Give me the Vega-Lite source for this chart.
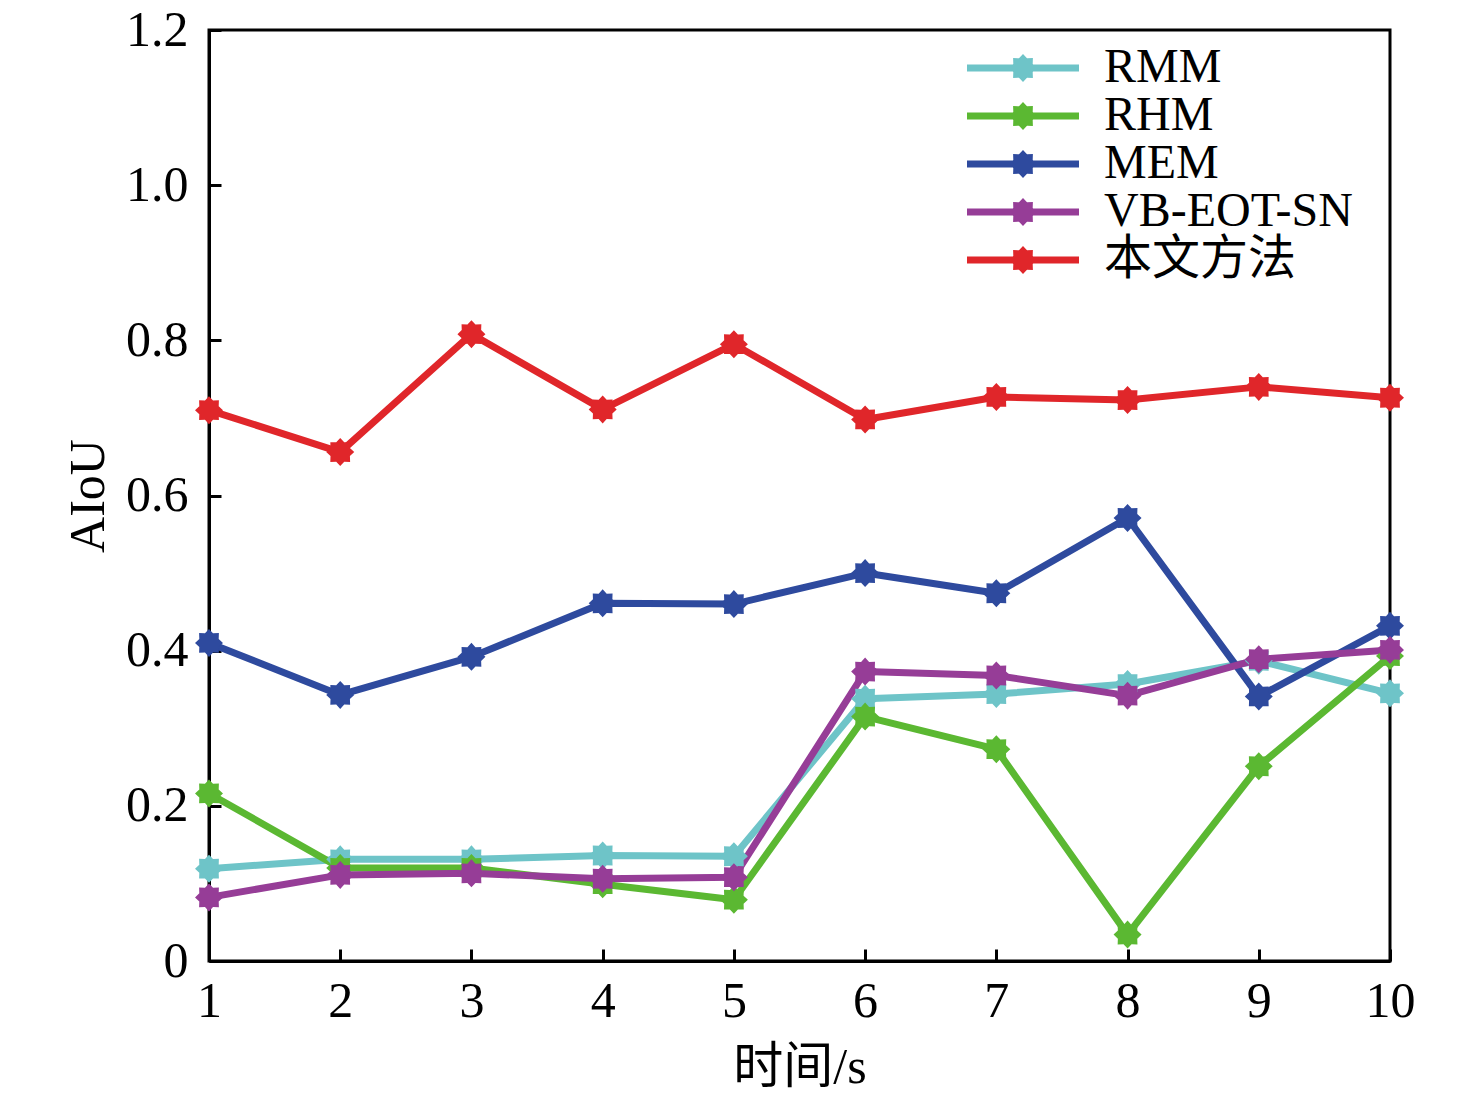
{
  "$schema": "https://vega.github.io/schema/vega-lite/v6.json",
  "autosize": "none",
  "width": 1181,
  "height": 931,
  "padding": {"left": 209, "top": 30, "right": 86, "bottom": 140},
  "background": "white",
  "config": {
    "view": {"stroke": "black", "strokeWidth": 3},
    "font": "Liberation Serif",
    "axis": {
      "domainColor": "black", "domainWidth": 3,
      "tickColor": "black", "tickWidth": 3, "tickSize": -12,
      "grid": false,
      "labelFont": "Liberation Serif, Noto Sans CJK SC", "labelFontSize": 50, "labelColor": "black",
      "titleFont": "Liberation Serif, Noto Sans CJK SC", "titleFontSize": 50, "titleFontWeight": "normal", "titleColor": "black"
    },
    "legend": {
      "labelFont": "Liberation Serif, Noto Sans CJK SC", "labelFontSize": 48, "labelColor": "black",
      "padding": 0
    }
  },
  "data": {
    "values": [
      {"t": 1, "s": "RMM", "v": 0.119}, {"t": 2, "s": "RMM", "v": 0.131}, {"t": 3, "s": "RMM", "v": 0.131}, {"t": 4, "s": "RMM", "v": 0.136}, {"t": 5, "s": "RMM", "v": 0.135},
      {"t": 6, "s": "RMM", "v": 0.338}, {"t": 7, "s": "RMM", "v": 0.344}, {"t": 8, "s": "RMM", "v": 0.357}, {"t": 9, "s": "RMM", "v": 0.387}, {"t": 10, "s": "RMM", "v": 0.345},
      {"t": 1, "s": "RHM", "v": 0.216}, {"t": 2, "s": "RHM", "v": 0.120}, {"t": 3, "s": "RHM", "v": 0.120}, {"t": 4, "s": "RHM", "v": 0.099}, {"t": 5, "s": "RHM", "v": 0.079},
      {"t": 6, "s": "RHM", "v": 0.315}, {"t": 7, "s": "RHM", "v": 0.273}, {"t": 8, "s": "RHM", "v": 0.034}, {"t": 9, "s": "RHM", "v": 0.251}, {"t": 10, "s": "RHM", "v": 0.393},
      {"t": 1, "s": "MEM", "v": 0.410}, {"t": 2, "s": "MEM", "v": 0.343}, {"t": 3, "s": "MEM", "v": 0.392}, {"t": 4, "s": "MEM", "v": 0.461}, {"t": 5, "s": "MEM", "v": 0.460},
      {"t": 6, "s": "MEM", "v": 0.500}, {"t": 7, "s": "MEM", "v": 0.474}, {"t": 8, "s": "MEM", "v": 0.571}, {"t": 9, "s": "MEM", "v": 0.341}, {"t": 10, "s": "MEM", "v": 0.432},
      {"t": 1, "s": "VB-EOT-SN", "v": 0.082}, {"t": 2, "s": "VB-EOT-SN", "v": 0.111}, {"t": 3, "s": "VB-EOT-SN", "v": 0.113}, {"t": 4, "s": "VB-EOT-SN", "v": 0.106}, {"t": 5, "s": "VB-EOT-SN", "v": 0.108},
      {"t": 6, "s": "VB-EOT-SN", "v": 0.373}, {"t": 7, "s": "VB-EOT-SN", "v": 0.368}, {"t": 8, "s": "VB-EOT-SN", "v": 0.342}, {"t": 9, "s": "VB-EOT-SN", "v": 0.389}, {"t": 10, "s": "VB-EOT-SN", "v": 0.401},
      {"t": 1, "s": "本文方法", "v": 0.710}, {"t": 2, "s": "本文方法", "v": 0.656}, {"t": 3, "s": "本文方法", "v": 0.808}, {"t": 4, "s": "本文方法", "v": 0.711}, {"t": 5, "s": "本文方法", "v": 0.795},
      {"t": 6, "s": "本文方法", "v": 0.698}, {"t": 7, "s": "本文方法", "v": 0.727}, {"t": 8, "s": "本文方法", "v": 0.723}, {"t": 9, "s": "本文方法", "v": 0.740}, {"t": 10, "s": "本文方法", "v": 0.726}
    ]
  },
  "encoding": {
    "x": {
      "field": "t", "type": "quantitative", "title": "时间/s",
      "scale": {"domain": [1, 10], "nice": false, "zero": false},
      "axis": {"values": [1, 2, 3, 4, 5, 6, 7, 8, 9, 10], "format": "d", "labelPadding": 27, "titlePadding": 16, "labelFlush": false}
    },
    "y": {
      "field": "v", "type": "quantitative", "title": "AIoU",
      "scale": {"domain": [0, 1.2], "nice": false},
      "axis": {"values": [0, 0.2, 0.4, 0.6, 0.8, 1.0, 1.2], "labelExpr": "datum.value == 0 ? '0' : format(datum.value, '.1f')", "labelPadding": 33, "titlePadding": 12, "labelFlush": false}
    },
    "color": {
      "field": "s", "type": "nominal", "sort": ["RMM", "RHM", "MEM", "VB-EOT-SN", "本文方法"],
      "scale": {"domain": ["RMM", "RHM", "MEM", "VB-EOT-SN", "本文方法"], "range": ["#6ec4c8", "#5bb832", "#2e4a9e", "#963d97", "#e0262a"]},
      "legend": {
        "title": null, "orient": "none", "legendX": 756, "legendY": 15,
        "clipHeight": 46, "rowPadding": 0, "labelLimit": 500,
        "symbolSize": 784, "symbolStrokeWidth": 0, "symbolOffset": 34, "labelOffset": 57,
        "symbolType": "M-4,-0.25H4V0.25H-4Z M1,0L0.693,0.287L0.707,0.707L0.287,0.693L0,1L-0.287,0.693L-0.707,0.707L-0.693,0.287L-1,0L-0.693,-0.287L-0.707,-0.707L-0.287,-0.693L0,-1L0.287,-0.693L0.707,-0.707L0.693,-0.287Z",
        "encode": {
          "symbols": {
            "update": {
              "shape": {"value": "M-4,-0.25H4V0.25H-4Z M1,0L0.693,0.287L0.707,0.707L0.287,0.693L0,1L-0.287,0.693L-0.707,0.707L-0.693,0.287L-1,0L-0.693,-0.287L-0.707,-0.707L-0.287,-0.693L0,-1L0.287,-0.693L0.707,-0.707L0.693,-0.287Z"},
              "fill": {"scale": "color", "field": "value"},
              "stroke": {"value": "transparent"},
              "opacity": {"value": 1}
            }
          }
        }
      }
    }
  },
  "layer": [
    {"mark": {"type": "line", "strokeWidth": 7, "strokeJoin": "round"}},
    {"mark": {"type": "point", "filled": true, "opacity": 1, "size": 784, "shape": "M1,0L0.693,0.287L0.707,0.707L0.287,0.693L0,1L-0.287,0.693L-0.707,0.707L-0.693,0.287L-1,0L-0.693,-0.287L-0.707,-0.707L-0.287,-0.693L0,-1L0.287,-0.693L0.707,-0.707L0.693,-0.287Z"}}
  ]
}
